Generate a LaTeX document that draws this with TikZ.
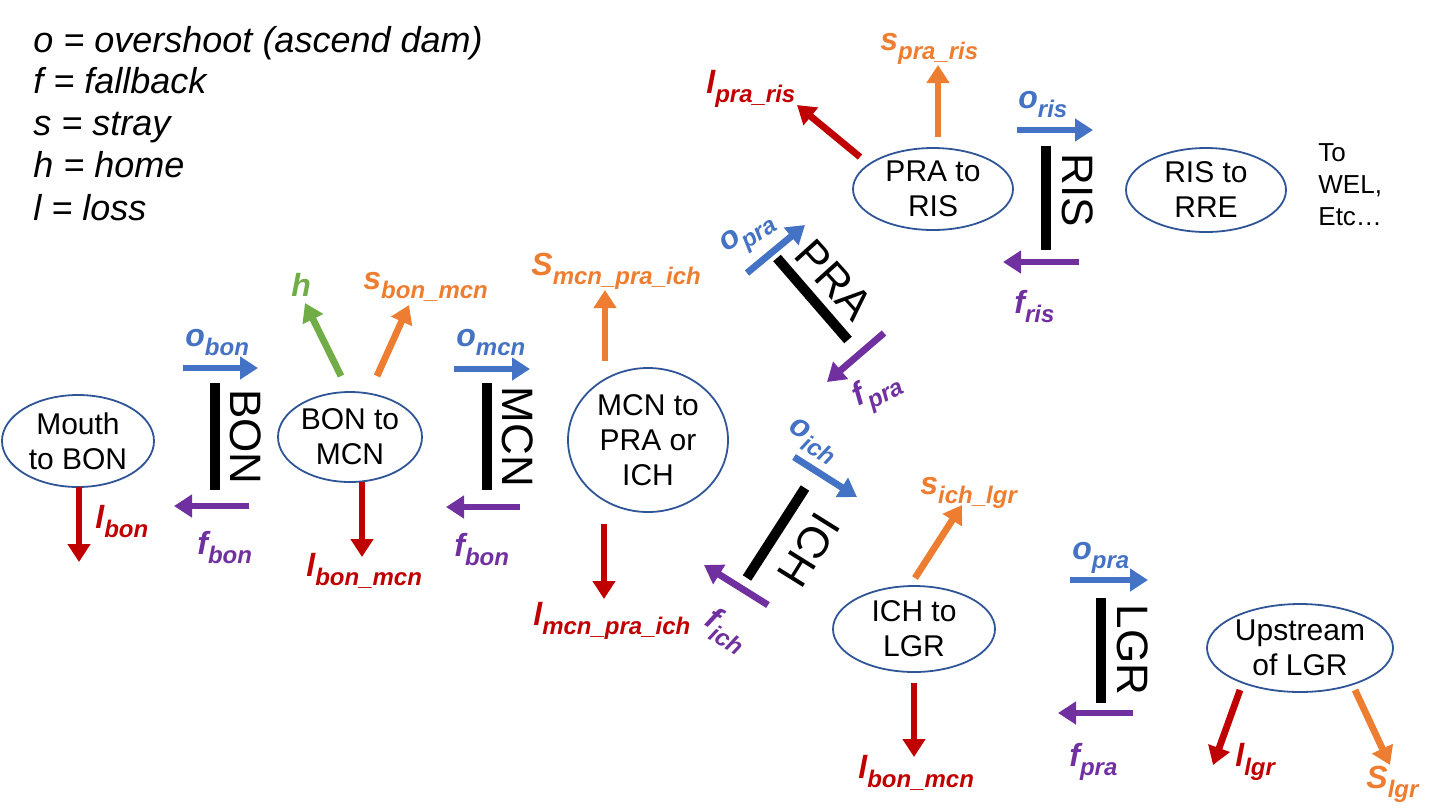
\documentclass[tikz,border=0pt]{standalone}
\usepackage{fontspec}
\setmainfont{Liberation Sans}
\usetikzlibrary{arrows.meta,shapes.geometric}
\definecolor{cblue}{HTML}{4472C4}
\definecolor{corange}{HTML}{ED7D31}
\definecolor{cred}{HTML}{C00000}
\definecolor{cpurple}{HTML}{7030A0}
\definecolor{cgreen}{HTML}{70AD47}
\definecolor{cell}{HTML}{2F5597}
\newcommand{\sublab}[2]{{\fontsize{16}{16}\selectfont\bfseries\itshape #1\raisebox{-4.5pt}{\fontsize{12}{12}\selectfont #2}}}
\tikzset{
  stage/.style={ellipse, draw=cell, line width=0.9pt, inner sep=0pt},
  stagetext/.style={align=center, inner sep=0pt, font=\fontsize{15}{17.5}\selectfont},
  flow/.style={line width=3.4pt, -{Triangle[length=9pt,width=11pt]}},
  dam/.style={line width=5pt},
  damlbl/.style={inner sep=0pt, font=\fontsize{22}{22}\selectfont},
  lab/.style={inner sep=0pt, anchor=base west},
  rlab/.style={inner sep=0pt},
  legend/.style={anchor=base west, inner sep=0pt, font=\itshape\fontsize{18}{18}\selectfont}
}
\begin{document}
\begin{tikzpicture}[x=0.5pt,y=-0.5pt]
\useasboundingbox (0,0) rectangle (1440,810);
% legend
\node[legend] (lg1) at (33,52) {o = overshoot (ascend dam)};
\node[legend] (lg2) at (33,93) {f = fallback};
\node[legend] (lg3) at (33,135) {s = stray};
\node[legend] (lg4) at (33,177) {h = home};
\node[legend] (lg5) at (33,220) {l = loss};

% stages
\node[stage, minimum width=76pt, minimum height=46pt] (mouth) at (78,441) {};
\node[stagetext] (mouthT) at (mouth) {Mouth\\to BON};
\node[stage, minimum width=72pt, minimum height=45pt] (bonmcn) at (350,437) {};
\node[stagetext] (bonmcnT) at (bonmcn) {BON to\\MCN};
\node[stage, minimum width=80pt, minimum height=72pt] (mcn) at (648,440) {};
\node[stagetext] (mcnT) at (mcn) {MCN to\\PRA or\\ICH};
\node[stage, minimum width=80pt, minimum height=41pt] (praris) at (933,189) {};
\node[stagetext] (prarisT) at (praris) {PRA to\\RIS};
\node[stage, minimum width=80pt, minimum height=42pt] (risrre) at (1206,190) {};
\node[stagetext] (risrreT) at (risrre) {RIS to\\RRE};
\node[stage, minimum width=81pt, minimum height=43pt] (ichlgr) at (914,629) {};
\node[stagetext] (ichlgrT) at (ichlgr) {ICH to\\LGR};
\node[stage, minimum width=93pt, minimum height=44pt] (up) at (1300,648) {};
\node[stagetext] (upT) at (up) {Upstream\\of LGR};
\node[anchor=north west, inner sep=0pt, align=left, font=\fontsize{13}{16}\selectfont] (etc) at (1318,143) {To\\WEL,\\Etc\ldots};

% dams
\draw[dam] (215,383) -- (215,490);
\node[damlbl, rotate=-90] (bonL) at (246,437) {BON};
\draw[dam] (487,383) -- (487,490);
\node[damlbl, rotate=-90] (mcnL) at (518,437) {MCN};
\draw[dam] (777,258) -- (848,340);
\node[damlbl, rotate=-48] (praL) at (834,280) {PRA};
\draw[dam] (805,488) -- (747,578);
\node[damlbl, rotate=-122] (ichL) at (809,550) {ICH};
\draw[dam] (1046,146) -- (1046,250);
\node[damlbl, rotate=-90] (risL) at (1078,190) {RIS};
\draw[dam] (1101,598) -- (1101,703);
\node[damlbl, rotate=-90] (lgrL) at (1133,650) {LGR};

% BON
\draw[flow, cblue] (183,368) -- (258,368);
\node[lab, text=cblue] (obon) at (185,346) {\sublab{o}{bon}};
\draw[flow, cpurple] (249,506) -- (174,506);
\node[lab, text=cpurple] (fbon) at (197,554) {\sublab{f}{bon}};
\draw[flow, cred] (79,487) -- (79,562);
\node[lab, text=cred] (lbon) at (95,528) {\sublab{l}{bon}};
% BON to MCN
\draw[flow, cgreen] (341,376) -- (305,303);
\node[lab, text=cgreen] (hh) at (291,296) {\sublab{h}{}};
\draw[flow, corange] (377,376) -- (409,305);
\node[lab, text=corange] (sbon) at (363,289) {\sublab{s}{bon\_mcn}};
\draw[flow, cred] (362,482) -- (362,557);
\node[lab, text=cred] (lbonmcn) at (306,576) {\sublab{l}{bon\_mcn}};
% MCN
\draw[flow, cblue] (454,369) -- (530,369);
\node[lab, text=cblue] (omcn) at (456,346) {\sublab{o}{mcn}};
\draw[flow, cpurple] (520,507) -- (446,507);
\node[lab, text=cpurple] (fmcn) at (454,556) {\sublab{f}{bon}};
% MCN to PRA or ICH
\draw[flow, corange] (605,361) -- (605,290);
\node[lab, text=corange] (smcn) at (531,275) {\sublab{S}{mcn\_pra\_ich}};
\draw[flow, cred] (604,524) -- (604,599);
\node[lab, text=cred] (lmcn) at (533,625) {\sublab{l}{mcn\_pra\_ich}};
% PRA
\draw[flow, cblue] (747,273) -- (805,225);
\node[rlab, text=cblue, rotate=33] (opra) at (749,236) {\sublab{o}{pra}};
\draw[flow, cpurple] (884,333) -- (827,382);
\node[rlab, text=cpurple, rotate=27] (fpra) at (878,391) {\sublab{f}{pra}};
% ICH
\draw[flow, cblue] (794,457) -- (857,497);
\node[rlab, text=cblue, rotate=-32] (oich) at (813,441) {\sublab{o}{ich}};
\draw[flow, cpurple] (768,605) -- (704,565);
\node[rlab, text=cpurple, rotate=-32] (fich) at (726,631) {\sublab{f}{ich}};
% PRA to RIS
\draw[flow, cred] (860,157) -- (797,105);
\node[lab, text=cred] (lpra) at (706,93) {\sublab{l}{pra\_ris}};
\draw[flow, corange] (938,137) -- (938,65);
\node[lab, text=corange] (spra) at (880,50) {\sublab{s}{pra\_ris}};
% RIS
\draw[flow, cblue] (1017,130) -- (1093,130);
\node[lab, text=cblue] (oris) at (1018,108) {\sublab{o}{ris}};
\draw[flow, cpurple] (1079,262) -- (1003,262);
\node[lab, text=cpurple] (fris) at (1014,313) {\sublab{f}{ris}};
% ICH to LGR
\draw[flow, corange] (915,578) -- (962,505);
\node[lab, text=corange] (sich) at (920,494) {\sublab{s}{ich\_lgr}};
\draw[flow, cred] (914,683) -- (914,757);
\node[lab, text=cred] (lich) at (858,778) {\sublab{l}{bon\_mcn}};
% LGR
\draw[flow, cblue] (1070,580) -- (1148,580);
\node[lab, text=cblue] (olgr) at (1072,559) {\sublab{o}{pra}};
\draw[flow, cpurple] (1133,713) -- (1058,713);
\node[lab, text=cpurple] (flgr) at (1069,766) {\sublab{f}{pra}};
% Upstream
\draw[flow, cred] (1240,690) -- (1213,765);
\node[lab, text=cred] (llgr) at (1235,766) {\sublab{l}{lgr}};
\draw[flow, corange] (1355,690) -- (1390,765);
\node[lab, text=corange] (slgr) at (1366,788) {\sublab{S}{lgr}};
\end{tikzpicture}
\end{document}
